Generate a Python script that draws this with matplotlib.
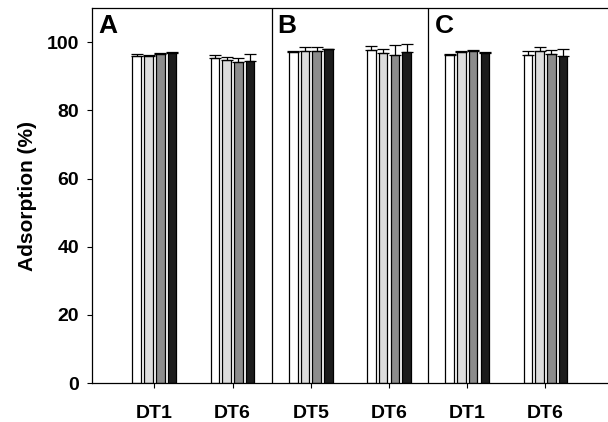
import numpy as np
import matplotlib.pyplot as plt

plt.rcParams['font.family'] = ['Liberation Sans', 'DejaVu Sans']

groups = ['DT1', 'DT6', 'DT5', 'DT6', 'DT1', 'DT6']
panels = ['A', 'B', 'C']
panel_x = [0.28, 2.57, 4.59]

# adsorption (%) per group, four series (white, light grey, grey, black)
s1 = [95.9, 95.2, 97.2, 97.8, 96.3, 96.2]
s2 = [95.8, 94.9, 97.4, 96.9, 97.1, 97.5]
s3 = [96.6, 94.1, 97.5, 96.3, 97.4, 96.6]
s4 = [96.9, 94.4, 98.0, 97.2, 96.9, 95.9]
e1 = [0.7, 1.0, 0.2, 1.1, 0.2, 1.1]
e2 = [0.3, 0.8, 1.3, 1.0, 0.3, 1.1]
e3 = [0.2, 1.1, 1.1, 2.8, 0.3, 1.2]
e4 = [0.1, 2.0, 0.1, 2.2, 0.1, 2.0]

series = [s1, s2, s3, s4]
errors = [e1, e2, e3, e4]
colors = ['white', '#dcdcdc', '#8c8c8c', '#1c1c1c']
offsets = [-0.225, -0.075, 0.075, 0.225]

fig = plt.figure(figsize=(6.08, 4.22), dpi=100)
ax = fig.add_axes([0.151, 0.092, 0.849, 0.889])

x = np.arange(1, len(groups) + 1)
for vals, err, c, off in zip(series, errors, colors, offsets):
    yerr = [np.zeros(len(err)), err]
    ax.bar(x + off, vals, width=0.11, color=c, edgecolor='black', linewidth=0.9,
           yerr=yerr, capsize=4.3, error_kw=dict(elinewidth=0.9, capthick=0.9, ecolor='black'))

for xs in [2.5, 4.5]:
    ax.axvline(xs, color='black', linewidth=0.9)

for px, p in zip(panel_x, panels):
    ax.text(px, 108.3, p, fontsize=19, fontweight='bold', va='top', ha='left')

ax.set_xlim(0.2, 6.8)
ax.set_ylim(0, 110)
ax.set_xticks(x)
ax.set_xticklabels(groups, fontsize=14, fontweight='bold')
ax.set_yticks(range(0, 101, 20))
ax.set_yticklabels([str(v) for v in range(0, 101, 20)], fontsize=14, fontweight='bold')
ax.tick_params(direction='out', length=3.5, width=0.8)
ax.tick_params(axis='x', pad=12)
ax.tick_params(axis='y', pad=5.5)
ax.set_ylabel('Adsorption (%)', fontsize=15, fontweight='bold', labelpad=7)
ax.spines['right'].set_visible(False)
for s in ['left', 'bottom', 'top']:
    ax.spines[s].set_linewidth(0.9)

fig.savefig('out.png', dpi=100)
